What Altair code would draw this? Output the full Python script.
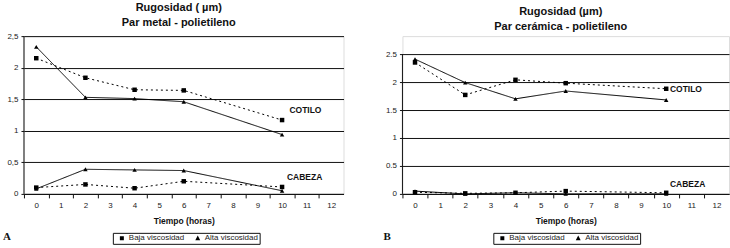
import altair as alt
import pandas as pd

# ---- data ----
horas = [0, 2, 4, 6, 10]
series = ["Baja viscosidad", "Alta viscosidad"]

metal_cotilo_baja = [2.15, 1.84, 1.65, 1.64, 1.17]
metal_cotilo_alta = [2.33, 1.53, 1.51, 1.46, 0.94]
metal_cabeza_baja = [0.10, 0.15, 0.09, 0.20, 0.11]
metal_cabeza_alta = [0.08, 0.39, 0.38, 0.37, 0.05]

ceram_cotilo_baja = [2.35, 1.77, 2.04, 1.98, 1.88]
ceram_cotilo_alta = [2.41, 1.99, 1.70, 1.84, 1.68]
ceram_cabeza_baja = [0.03, 0.01, 0.02, 0.05, 0.02]
ceram_cabeza_alta = [0.05, 0.00, 0.02, 0.00, 0.00]

x_ticks = list(range(13))
y_ticks = [0, 0.5, 1, 1.5, 2, 2.5]

FONT = "Liberation Sans"


def tabla(cb, ca, hb, ha):
    rows = []
    for comp, baja, alta in [("COTILO", cb, ca), ("CABEZA", hb, ha)]:
        for s, vals in [(series[0], baja), (series[1], alta)]:
            for h, v in zip(horas, vals):
                rows.append({"horas": h, "rugosidad": v, "serie": s, "componente": comp})
    return pd.DataFrame(rows)


# legend symbols: short line with marker (dotted / solid)
PATH_BAJA = "M-0.6,0H-0.1M2.4,0H2.9M0.58,-0.58H1.72V0.58H0.58Z"
PATH_ALTA = "M-0.6,0H2.9M1.15,-0.8L1.85,0.55H0.45Z"


def leg(lx, ly):
    return alt.Legend(
        title=None, orient="none", legendX=lx, legendY=ly,
        direction="horizontal", columns=2, strokeColor="#111", fillColor="white",
        padding=1, symbolSize=49, symbolStrokeWidth=1, symbolFillColor="black",
        symbolStrokeColor="black", labelFont=FONT, labelFontSize=8,
        labelColor="#222", labelOffset=7, columnPadding=4, labelLimit=200,
    )


def panel(df, width, height, y_top, title, comma, lx, ly, label_pos, letter, letter_dx):
    step = width / 13.0
    xs = alt.Scale(domain=[-0.5, 12.5], nice=False, zero=False)
    ys = alt.Scale(domain=[0, y_top], nice=False, zero=True)
    y_axis_kw = dict(
        values=y_ticks, grid=True, gridColor="#111", gridOpacity=1, gridWidth=1,
        domain=False, tickColor="#111", tickSize=3, labelFont=FONT,
        labelFontSize=8, labelColor="#222", labelPadding=3, title=None,
        labelOverlap=False, format="~g",
    )
    if comma:
        y_axis_kw["labelExpr"] = "replace(datum.label, '.', ',')"
    x_axis = alt.Axis(
        values=x_ticks, tickOffset=-step / 2, labelOffset=step / 2, grid=False,
        domainColor="#111", tickColor="#111", tickSize=4, labelFont=FONT,
        labelFontSize=8, labelColor="#222", labelPadding=4, labelFlush=False,
        labelOverlap=False, title="Tiempo (horas)", titleFont=FONT,
        titleFontSize=8.5, titleFontWeight="bold", titleColor="#111", titlePadding=7,
    )
    y_axis = alt.Axis(**y_axis_kw)
    X = alt.X("horas:Q", scale=xs, axis=x_axis)
    Y = alt.Y("rugosidad:Q", scale=ys, axis=y_axis)

    base = alt.Chart(df)
    lines = base.mark_line(color="black", strokeWidth=1).encode(
        x=X, y=Y, detail="componente:N",
        strokeDash=alt.StrokeDash("serie:N", scale=alt.Scale(domain=series, range=[[2, 3], [1, 0]]), legend=None),
    )
    pts = base.mark_point(filled=True, color="black", size=20, opacity=1).encode(
        x=X, y=Y,
        shape=alt.Shape(
            "serie:N",
            scale=alt.Scale(domain=series, range=["square", "triangle-up"]),
            legend=None,
        ),
    )
    one = alt.Data(values=[{"a": 1}])
    axis_line = alt.Chart(one).mark_rule(color="#111", strokeWidth=1).encode(
        x=alt.X(datum=-0.5, scale=xs, axis=x_axis),
        y=alt.Y(datum=0, scale=ys, axis=y_axis),
        y2=alt.Y2(datum=2.5),
    )
    layers = [axis_line, lines, pts]
    for txt, (tx, ty) in label_pos.items():
        layers.append(
            alt.Chart(one).mark_text(
                text=txt, font=FONT, fontSize=8.5, fontWeight="bold", align="left",
                baseline="middle", color="#111",
            ).encode(
                x=alt.X(datum=tx, scale=xs, axis=x_axis),
                y=alt.Y(datum=ty, scale=ys, axis=y_axis),
            )
        )
    layers.append(
        alt.Chart(one).mark_text(
            text=letter, font="Liberation Serif", fontSize=11, fontWeight="bold",
            align="left", baseline="middle", color="#111",
        ).encode(x=alt.value(letter_dx), y=alt.value(height + 43))
    )
    layers.append(
        base.mark_point(filled=True, color="black", opacity=1, size=0).encode(
            x=X, y=Y,
            shape=alt.Shape(
                "serie:N",
                scale=alt.Scale(domain=series, range=[PATH_BAJA, PATH_ALTA]),
                legend=leg(lx, ly),
            ),
        )
    )
    ch = alt.layer(*layers).resolve_scale(shape="independent")
    return ch.properties(
        width=width, height=height,
        title=alt.TitleParams(
            text=title, font=FONT, fontSize=11, fontWeight="bold", lineHeight=15,
            offset=4, dx=-5, color="#111", anchor="middle",
        ),
    )


H = 158
left = panel(
    tabla(metal_cotilo_baja, metal_cotilo_alta, metal_cabeza_baja, metal_cabeza_alta),
    320, H, 2.5, ["Rugosidad ( µm)", "Par metal - polietileno"], True, 89, 197,
    {"COTILO": (10.3, 1.33), "CABEZA": (10.2, 0.27)}, "A", -21,
)
right = panel(
    tabla(ceram_cotilo_baja, ceram_cotilo_alta, ceram_cabeza_baja, ceram_cabeza_alta),
    327, H, 2.5 * H / 140.0, ["Rugosidad (µm)", "Par cerámica - polietileno"], False, 91, 197,
    {"COTILO": (10.15, 1.87), "CABEZA": (10.15, 0.17)}, "B", -19,
)

chart = alt.hconcat(left, right, spacing=38).resolve_legend(shape="independent").properties(
    padding={"left": 2, "top": 1, "right": 0, "bottom": 0}
).configure_view(strokeWidth=0, stroke="transparent").configure(font=FONT)

chart.save("out.html", embed_options={"renderer": "svg", "actions": False})
